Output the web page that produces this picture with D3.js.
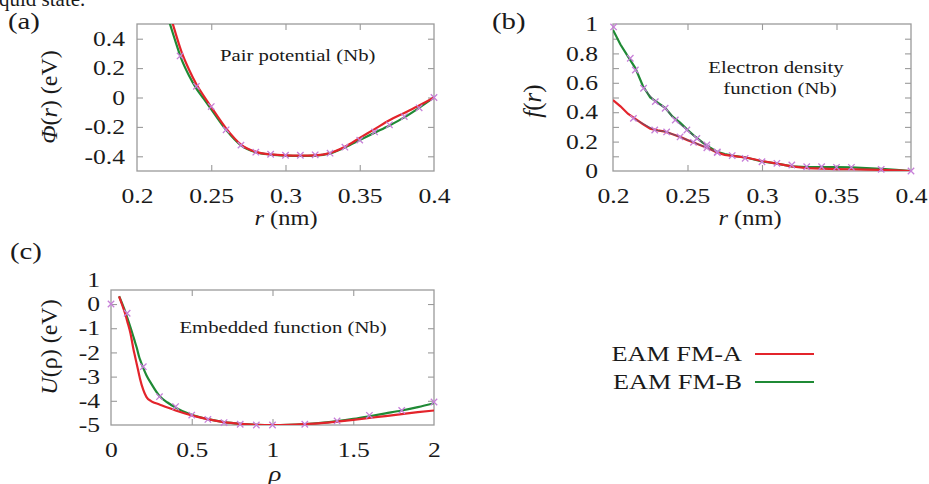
<!DOCTYPE html>
<html><head><meta charset="utf-8">
<script src="https://cdn.jsdelivr.net/npm/d3@7"></script>
<style>
body{margin:0;background:#fff}
svg{display:block}
text{font-family:"Liberation Serif","Times New Roman",serif;fill:#1a1a1a}
</style>
</head><body>
<svg id="c" width="929" height="484"></svg>
<script>
// ---------- DATA ----------
// (a) Pair potential
const aR      = [0.22,0.225,0.23,0.235,0.24,0.245,0.25,0.26,0.27,0.28,0.29,0.30,0.31,0.32,0.33,0.34,0.35,0.36,0.37,0.38,0.39,0.40];
const aFMA    = [0.64,0.47,0.31,0.19,0.09,0.01,-0.065,-0.21,-0.32,-0.37,-0.387,-0.394,-0.396,-0.394,-0.378,-0.335,-0.275,-0.215,-0.155,-0.105,-0.055,0.0];
const aFMB    = [0.57,0.41,0.26,0.15,0.06,-0.01,-0.08,-0.22,-0.325,-0.372,-0.388,-0.395,-0.397,-0.395,-0.38,-0.34,-0.29,-0.24,-0.19,-0.135,-0.07,0.0];
const aMarkR  = [0.229,0.24,0.25,0.26,0.27,0.28,0.29,0.30,0.31,0.32,0.33,0.34,0.35,0.36,0.37,0.38,0.39,0.40];
const aMarkV  = [0.283,0.076,-0.062,-0.22,-0.324,-0.372,-0.386,-0.393,-0.393,-0.39,-0.379,-0.338,-0.29,-0.234,-0.186,-0.13,-0.07,0.0];

// (b) Electron density function
const bR      = [0.2,0.205,0.21,0.215,0.22,0.225,0.23,0.235,0.24,0.245,0.25,0.255,0.26,0.265,0.27,0.275,0.28,0.29,0.30,0.31,0.32,0.33,0.34,0.35,0.36,0.37,0.38,0.39,0.40];
const bFMA    = [0.483,0.44,0.39,0.355,0.32,0.288,0.276,0.268,0.25,0.232,0.21,0.19,0.17,0.15,0.125,0.11,0.103,0.09,0.068,0.05,0.032,0.02,0.016,0.013,0.012,0.01,0.008,0.004,0.0];
const bFMB    = [0.96,0.86,0.78,0.70,0.58,0.50,0.465,0.43,0.37,0.33,0.28,0.235,0.195,0.16,0.13,0.115,0.105,0.09,0.065,0.05,0.032,0.027,0.027,0.026,0.025,0.02,0.015,0.008,0.0];
const bMarkR  = [0.2004,0.2116,0.215,0.2205,0.2284,0.235,0.2418,0.2496,0.2563,0.263,0.27,0.28,0.2887,0.30,0.31,0.32,0.33,0.34,0.35,0.36,0.38,0.40];
const bMarkV  = [0.98,0.767,0.687,0.563,0.472,0.427,0.347,0.279,0.222,0.177,0.13,0.105,0.086,0.063,0.052,0.041,0.029,0.029,0.025,0.025,0.011,0.0];
const bMark2R = [0.2137,0.228,0.236,0.245,0.254,0.263,0.27];
const bMark2V = [0.358,0.279,0.266,0.232,0.195,0.158,0.125];

// (c) Embedded function
const cRho    = [0.05,0.07,0.09,0.1,0.12,0.14,0.15,0.16,0.175,0.18,0.2,0.22,0.25,0.3,0.35,0.4,0.5,0.6,0.7,0.8,0.9,1.0,1.1,1.2,1.3,1.4,1.5,1.6,1.7,1.8,1.9,2.0];
const cFMA    = [0.32,-0.05,-0.45,-0.7,-1.2,-1.9,-2.2,-2.5,-2.95,-3.1,-3.55,-3.85,-4.02,-4.15,-4.28,-4.4,-4.6,-4.76,-4.88,-4.95,-4.99,-5.0,-4.99,-4.96,-4.92,-4.86,-4.79,-4.71,-4.63,-4.55,-4.47,-4.4];
const cFMB    = [0.32,0.0,-0.35,-0.55,-0.95,-1.38,-1.6,-1.82,-2.2,-2.3,-2.65,-2.95,-3.3,-3.8,-4.07,-4.28,-4.58,-4.76,-4.88,-4.95,-4.99,-5.0,-4.99,-4.96,-4.91,-4.84,-4.75,-4.64,-4.52,-4.40,-4.26,-4.1];
const cMarkR  = [0.0,0.1,0.2,0.3,0.4,0.5,0.6,0.7,0.8,0.9,1.0,1.2,1.4,1.6,1.8,2.0];
const cMarkV  = [0.0,-0.38,-2.59,-3.83,-4.24,-4.59,-4.77,-4.9,-4.97,-5.0,-5.0,-4.97,-4.83,-4.6,-4.4,-4.05];

// ticks
const aXTicks = [0.2,0.25,0.3,0.35,0.4];
const aYTicks = [-0.4,-0.2,0,0.2,0.4];
const bXTicks = [0.2,0.25,0.3,0.35,0.4];
const bYTicks = [0,0.2,0.4,0.6,0.8,1];
const bYMinor = [0.1,0.2,0.3,0.4,0.5,0.6,0.7,0.8,0.9];
const cXTicks = [0,0.5,1,1.5,2];
const cYTicks = [-5,-4,-3,-2,-1,0,1];

const seriesNames = ["EAM FM-A","EAM FM-B"];
const colors = {A:"#e3242b", B:"#1f8a35", mark:"#c77fd8"};

// ---------- DRAW ----------
const SX = 1.22;
const svg = d3.select("#c");

function txt(x, y, parts, size, anchor, sx, rot) {
  const t = svg.append("text")
    .attr("transform", `translate(${x},${y})` + (rot ? ` rotate(${rot})` : "") + ` scale(${sx},1)`)
    .attr("font-size", size).attr("text-anchor", anchor || "start");
  (Array.isArray(parts) ? parts : [[parts,false]]).forEach(p => {
    t.append("tspan").text(p[0]).attr("font-style", p[1] ? "italic" : null);
  });
  return t;
}

function fmt(v){ return String(+v.toFixed(2)); }

function panel(o) {
  const x = d3.scaleLinear().domain(o.xd).range([o.l, o.r]);
  const y = d3.scaleLinear().domain(o.yd).range([o.b, o.t]);
  const g = svg.append("g");
  const clipId = "clip" + o.id;
  svg.append("clipPath").attr("id", clipId).append("rect")
    .attr("x", o.l).attr("y", o.t).attr("width", o.r - o.l).attr("height", o.b - o.t);

  const tk = 6;
  const inner = (v, lo, hi) => v.filter(d => d > lo + 1e-9 && d < hi - 1e-9);
  const xm = inner(o.xt, o.xd[0], o.xd[1]);
  const ym = inner(o.ymarks || o.yt, o.yd[0], o.yd[1]);
  const styleAxis = s => { s.select(".domain").remove(); s.selectAll("line").attr("stroke", "#9a9a9a").attr("stroke-width", 1.1); };
  g.append("g").attr("transform", `translate(0,${o.b})`).call(d3.axisBottom(x).tickValues(xm).tickSize(-tk).tickFormat("")).call(styleAxis);
  g.append("g").attr("transform", `translate(0,${o.t})`).call(d3.axisTop(x).tickValues(xm).tickSize(-tk).tickFormat("")).call(styleAxis);
  g.append("g").attr("transform", `translate(${o.l},0)`).call(d3.axisLeft(y).tickValues(ym).tickSize(-tk).tickFormat("")).call(styleAxis);
  g.append("g").attr("transform", `translate(${o.r},0)`).call(d3.axisRight(y).tickValues(ym).tickSize(-tk).tickFormat("")).call(styleAxis);

  const xl = g.append("g").attr("transform", `translate(0,${o.b})`)
    .call(d3.axisBottom(x).tickValues(o.xt).tickSize(0).tickPadding(o.xpad).tickFormat(fmt));
  xl.select(".domain").remove();
  xl.attr("font-family", null).attr("font-size", null);
  xl.selectAll("text").attr("font-size", 21).attr("fill", "#1a1a1a")
    .attr("transform", `scale(${SX},1)`);
  const yl = g.append("g").attr("transform", `translate(${o.l},0)`)
    .call(d3.axisLeft(y).tickValues(o.yt).tickSize(0).tickPadding(o.ypad / SX).tickFormat(fmt));
  yl.select(".domain").remove();
  yl.attr("font-family", null).attr("font-size", null);
  yl.selectAll("text").attr("font-size", 21).attr("fill", "#1a1a1a")
    .attr("transform", `scale(${SX},1)`);

  g.append("rect").attr("x", o.l).attr("y", o.t).attr("width", o.r - o.l).attr("height", o.b - o.t)
    .attr("fill", "none").attr("stroke", "#9a9a9a").attr("stroke-width", 1.3);

  const curve = o.curve || d3.curveMonotoneX;
  const line = (xs, ys) => d3.line().curve(curve).x((d, i) => x(xs[i])).y(d => y(d))(ys);
  const plot = g.append("g").attr("clip-path", `url(#${clipId})`);
  plot.append("path").attr("d", line(o.xs, o.B)).attr("fill", "none").attr("stroke", colors.B).attr("stroke-width", 2.2);
  plot.append("path").attr("d", line(o.xs, o.A)).attr("fill", "none").attr("stroke", colors.A).attr("stroke-width", 2.2);
  if (o.darkLines) o.darkLines.forEach(dl => {
    plot.append("path").attr("d", d3.line().x((d,i)=>x(dl[0][i])).y(d=>y(d))(dl[1]))
      .attr("fill","none").attr("stroke","#5b5670").attr("stroke-width",1.1).attr("opacity",0.8);
  });
  const ms = 3.2;
  o.marks.forEach(m => {
    m[0].forEach((mx, i) => {
      const px = x(mx), py = y(m[1][i]);
      g.append("path").attr("d", `M${px-ms},${py-ms}L${px+ms},${py+ms}M${px-ms},${py+ms}L${px+ms},${py-ms}`)
        .attr("stroke", colors.mark).attr("stroke-width", 1.3).attr("fill", "none");
    });
  });
  return {x, y};
}

panel({id:"a", l:137, r:434, t:24, b:171, xd:[0.2,0.4], yd:[-0.5,0.5], xt:aXTicks, yt:aYTicks,
  xpad:17, ypad:12, xs:aR, A:aFMA, B:aFMB, marks:[[aMarkR,aMarkV]]});
panel({id:"b", l:613, r:911, t:24, b:171, xd:[0.2,0.4], yd:[0,1], xt:bXTicks, yt:bYTicks, ymarks:bYMinor,
  xpad:17, ypad:15, xs:bR, A:bFMA, B:bFMB, curve:d3.curveLinear,
  darkLines:[[bMarkR.slice(3,10), bMarkV.slice(3,10)],[bMark2R, bMark2V]],
  marks:[[bMarkR,bMarkV],[bMark2R,bMark2V]]});
panel({id:"c", l:111, r:434, t:290, b:425, xd:[0,2], yd:[-5,0.58], xt:cXTicks, yt:cYTicks, ymarks:[-4,-3,-2,-1,0],
  xpad:17, ypad:11, xs:cRho, A:cFMA, B:cFMB, marks:[[cMarkR,cMarkV]]});

// Texts
txt(-1, 6, "quid state.", 20, "start", 1.05);
txt(8, 29, "(a)", 23, "start", 1.25);
txt(492, 29, "(b)", 23, "start", 1.25);
txt(10, 259, "(c)", 23, "start", 1.25);

txt(220, 61, "Pair potential (Nb)", 17, "start", SX);
txt(776, 73, "Electron density", 17, "middle", SX);
txt(780, 94, "function (Nb)", 17, "middle", SX);
txt(283, 333, "Embedded function (Nb)", 17, "middle", SX);

txt(286, 225, [["r",true],[" (nm)",false]], 20, "middle", SX);
txt(750, 225, [["r",true],[" (nm)",false]], 20, "middle", SX);
txt(275, 481, [["ρ",true]], 22, "middle", SX);

txt(57, 97, [["Φ",true],["(",false],["r",true],[")  (eV)",false]], 24, "middle", 1, -90);
txt(541, 101, [["f",true],["(",false],["r",true],[")",false]], 25, "middle", 1, -90);
txt(57, 347, [["U",true],["(ρ)  (eV)",false]], 24, "middle", 1, -90);

// Legend
const lg = svg.append("g");
seriesNames.forEach((n, i) => {
  const yy = 354 + i * 28;
  txt(742, yy + 7, n, 21, "end", 1.25);
  lg.append("line").attr("x1", 755).attr("x2", 814).attr("y1", yy).attr("y2", yy)
    .attr("stroke", i === 0 ? colors.A : colors.B).attr("stroke-width", 2.2);
});
</script>
</body></html>
